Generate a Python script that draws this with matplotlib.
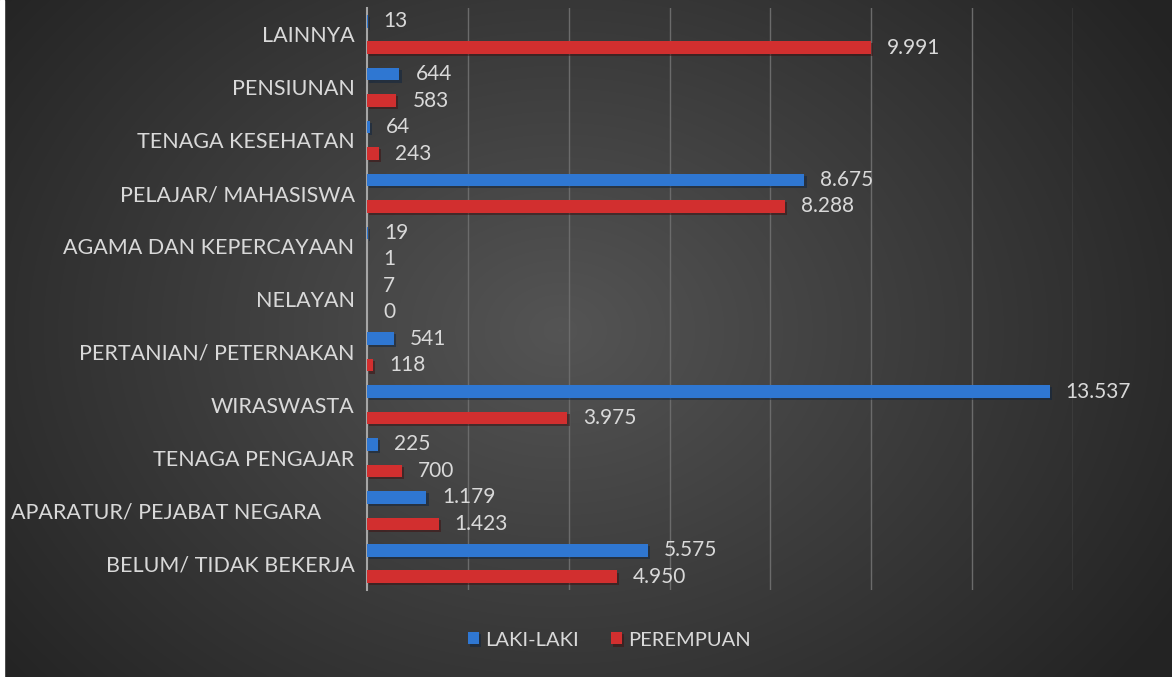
#!/usr/bin/env python
#######################################################################

import numpy as np
import matplotlib
matplotlib.use('Agg')
import matplotlib.pyplot as plt
import matplotlib.patheffects as pe

#######################################################################
# Data (bottom to top)

categories = [
    'BELUM/ TIDAK BEKERJA',
    'APARATUR/ PEJABAT NEGARA      ',
    'TENAGA PENGAJAR',
    'WIRASWASTA',
    'PERTANIAN/ PETERNAKAN',
    'NELAYAN',
    'AGAMA DAN KEPERCAYAAN',
    'PELAJAR/ MAHASISWA',
    'TENAGA KESEHATAN',
    'PENSIUNAN',
    'LAINNYA',
]
laki = [5575, 1179, 225, 13537, 541, 7, 19, 8675, 64, 644, 13]
perempuan = [4950, 1423, 700, 3975, 118, 0, 1, 8288, 243, 583, 9991]
series_names = ['LAKI-LAKI', 'PEREMPUAN']

#######################################################################
# Style

plt.rcParams['font.family'] = ['Lato', 'DejaVu Sans']
txt_color = '#d9d9d9'
blue = '#2f77d2'
red = '#d22f2f'

def fmt(v):
    return f'{v:,}'.replace(',', '.')

#######################################################################
# Figure with radial gradient background

fig = plt.figure(figsize=(11.72, 6.77), dpi=100)
bg = fig.add_axes([0, 0, 1, 1], zorder=-10)
yy, xx = np.mgrid[0:677, 0:1172]
r = np.sqrt(((xx - 560) / 900.0) ** 2 + ((yy - 330) / 700.0) ** 2)
shade = np.clip(0.33 - 0.24 * r, 0.14, 0.34)
bg.imshow(np.dstack([shade] * 3), aspect='auto', extent=[0, 1, 0, 1])
bg.add_patch(plt.Rectangle((0, 0), 4 / 1172, 1, color='white'))
bg.set_xlim(0, 1)
bg.set_ylim(0, 1)
bg.axis('off')

ax = fig.add_axes([367 / 1172, 1 - 590 / 677, 706 / 1172, 582 / 677])
ax.patch.set_alpha(0)

y = np.arange(len(categories))
h = 0.24
off = 0.25
shadow = [pe.SimplePatchShadow(offset=(1.5, -1.5), alpha=0.5), pe.Normal()]
b1 = ax.barh(y + off, laki, height=h, color=blue, label=series_names[0],
             zorder=3, path_effects=shadow)
b2 = ax.barh(y - off, perempuan, height=h, color=red, label=series_names[1],
             zorder=3, path_effects=shadow)

for bars, vals in ((b1, laki), (b2, perempuan)):
    for bar, v in zip(bars, vals):
        ax.annotate(fmt(v), (bar.get_width(), bar.get_y() + bar.get_height() / 2),
                    xytext=(11.5, 0), textcoords='offset points',
                    va='center', ha='left', fontsize=15, color=txt_color)

ax.set_xlim(0, 14000)
ax.set_ylim(-0.5, len(categories) - 0.5)
ax.set_xticks(np.arange(2000, 14001, 2000))
ax.xaxis.grid(True, color='#6b6b6b', linewidth=1)
ax.set_axisbelow(True)
ax.tick_params(axis='x', length=0, labelbottom=False)
ax.tick_params(axis='y', length=0, pad=9, labelsize=15.5, labelcolor=txt_color)
ax.set_yticks(y)
ax.set_yticklabels(categories)
for side in ('top', 'right', 'bottom'):
    ax.spines[side].set_visible(False)
ax.spines['left'].set_color('#a6a6a6')
ax.spines['left'].set_linewidth(1.5)

leg = fig.legend(handles=[b1, b2], loc='center', bbox_to_anchor=(0.52, 1 - 640 / 677),
                 ncol=2, frameon=False, fontsize=14.5, handlelength=0.55,
                 handleheight=0.55, handletextpad=0.3, columnspacing=1.6)
for t in leg.get_texts():
    t.set_color(txt_color)

fig.savefig('out.png', dpi=100)

#######################################################################
#######################################################################
